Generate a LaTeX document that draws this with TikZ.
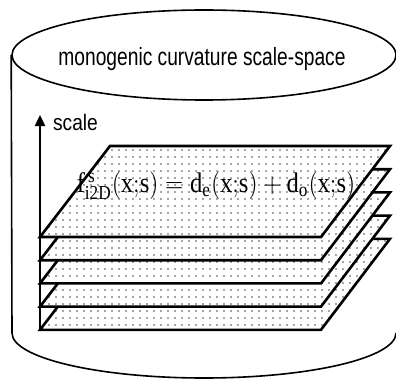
\documentclass[tikz,border=0pt]{standalone}
\usepackage{fontspec}
\setmainfont{Liberation Serif}
\setsansfont{Liberation Sans}
\usetikzlibrary{
  arrows.meta,
  shapes.geometric,
  patterns.meta
}

\begin{document}
\begin{tikzpicture}[x=5pt,y=5pt,
  lid/.style={draw,ellipse,line width=0.8pt,minimum width=192pt,
    minimum height=45pt,inner sep=0pt},
  wall/.style={line width=0.8pt},
  % sheets are opaque so the upper ones hide the lower ones
  sheet/.style={line width=1.3pt,line join=miter,preaction={fill=white},
    pattern={Dots[distance=3.5pt,radius=0.45pt]},pattern color=black!70},
  axis/.style={line width=1.2pt,-{Triangle[length=5.5pt,width=5pt]}},
  % the labels are set a little taller than the font
  lbl/.style={font=\sffamily\fontsize{9.6}{11}\selectfont,transform shape,yscale=1.3}
]
\useasboundingbox (0,0) rectangle (39.6,38.1);

% ---- cylinder ----
\node[lid] (lid) at (20.4,32.6) {};
\node[lbl] (title) at (20.2,32.2) {monogenic curvature scale-space};
\draw[wall] (lid.west) -- (1.2,4.8)
  arc[start angle=180,end angle=360,x radius=19.2,y radius=4.5];

% ---- stacked sheets, lowest first ----
\foreach \y in {5.12,7.44,9.76,12.08,14.4}
  \draw[sheet] (4,\y) -- ++(28.1,0) -- ++(6.9,9.1) -- ++(-28,0) -- cycle;

% ---- scale axis ----
\coordinate (axisfoot) at (4,5.12);
\coordinate (axishead) at (4,26.6);
\draw[axis] (axisfoot) -- (axishead);
\node[lbl,yscale=0.9,anchor=west] (scalelbl) at (4.6,25.9) {scale};

% ---- decomposition on the top sheet ----
\node[font=\fontsize{12.3}{15}\selectfont,inner sep=0pt,transform shape,yscale=1.15]
  (eq) at (21.6,19.5)
  {$\mathrm{f}^{\,\mathrm{s}}_{\mathrm{i2D}}(\mathrm{x}{;}\mathrm{s})
    = \mathrm{d}_{\mathrm{e}}(\mathrm{x}{;}\mathrm{s})
    + \mathrm{d}_{\mathrm{o}}(\mathrm{x}{;}\mathrm{s})$};
\end{tikzpicture}
\end{document}
